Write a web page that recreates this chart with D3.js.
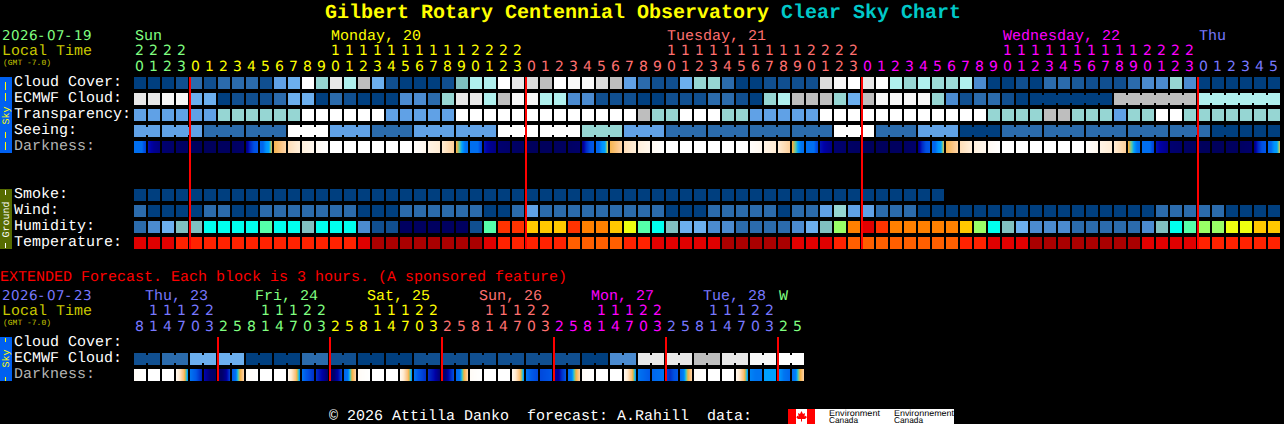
<!DOCTYPE html>
<html><head><meta charset="utf-8">
<script src="https://cdn.jsdelivr.net/npm/d3@7"></script>
<style>
html,body{margin:0;padding:0;background:#000;overflow:hidden}
svg{display:block}
text{font-family:"Liberation Mono",monospace;white-space:pre;text-rendering:geometricPrecision}
</style></head><body>
<script>
// ---------- data ----------
const titleMain = "Gilbert Rotary Centennial Observatory";
const titleSub = "Clear Sky Chart";
const skyLabels = ["Cloud Cover:", "ECMWF Cloud:", "Transparency:", "Seeing:", "Darkness:"];
const groundLabels = ["Smoke:", "Wind:", "Humidity:", "Temperature:"];
const extLabels = ["Cloud Cover:", "ECMWF Cloud:", "Darkness:"];

const hours = [20,21,22,23,0,1,2,3,4,5,6,7,8,9,10,11,12,13,14,15,16,17,18,19,20,21,22,23,
  0,1,2,3,4,5,6,7,8,9,10,11,12,13,14,15,16,17,18,19,20,21,22,23,
  0,1,2,3,4,5,6,7,8,9,10,11,12,13,14,15,16,17,18,19,20,21,22,23,0,1,2,3,4,5];
const hourDayIdx = [0,0,0,0,...Array(24).fill(1),...Array(24).fill(2),...Array(24).fill(3),...Array(6).fill(4)];
const dayNames = [{t:"Sun",col:0,d:0},{t:"Monday, 20",col:14,d:1},{t:"Tuesday, 21",col:38,d:2},{t:"Wednesday, 22",col:62,d:3},{t:"Thu",col:76,d:4}];
const dayColors = ["#80ff80","#ffff00","#ff7070","#ff00ff","#7878ff"];

const extHours = [8,11,14,17,20,23,2,5,8,11,14,17,20,23,2,5,8,11,14,17,20,23,2,5,8,11,14,17,20,23,2,5,8,11,14,17,20,23,2,5,8,11,14,17,20,23,2,5];
const extDayIdx = [0,0,0,0,0,0,...Array(8).fill(1),...Array(8).fill(2),...Array(8).fill(3),...Array(8).fill(4),...Array(8).fill(5),6,6];
const extDayNames = [{t:"Thu, 23",x:145,d:0},{t:"Fri, 24",x:255,d:1},{t:"Sat, 25",x:367,d:2},{t:"Sun, 26",x:479,d:3},{t:"Mon, 27",x:591,d:4},{t:"Tue, 28",x:703,d:5},{t:"W",x:779,d:6}];
const extDayColors = ["#7878ff","#80ff80","#ffff00","#ff7070","#ff00ff","#7878ff","#80ff80"];

const cloudCover = [0,0,0,1,2,1,2,2,2,1,4,5,10,6,9,7,8,5,1,0,0,0,1,5.8,7,7,10,9,8.5,8,10,9.5,9.5,8.5,8,4,2,1,1,5,6,6,2,0,0,1,1,1,1,8.5,9.5,10,
  9,10,7,6,7,6.5,6.5,7,3,0,0,1,0,2,2,1.5,1,1,1,2,3,3,6,3,0,0,0,0,0,0];
const ecmwfCloud = [9,9,9.5,9.5,5,5,0,1,1,1,2,5,5,0,2,1,0,0,0,3,3,2,6,9,9,7,8,9.5,9.5,7,7,3,3,1,1,1,0,0,1,1,1,2,2,1,0,6,7,8,8,8,6,5,
  8,9.5,9.5,9.5,9.5,6,3,1,2,2,1,0,0,0,0,0,0,0,8,8,8,8,8,8,7,7,7,7,7,7];
const transparency = [4,4,4,4,4,4,6,6,6,6,6,6,10,10,10,10,10,10,4,4,4,4,4,10,10,10,10,10,10,10,10,10,10,10,10,10,8,6,6,10,10,10,6,6,4,4,4,4,4,10,10,10,
  10,10,10,10,10,10,10,10,10,6,6,6,6,8,8,6,6,6,4,6,6,10,10,6,6,6,6,6,6,6];
const seeing = [4,4,4,4,4,2,2,2,2,2,2,10,10,10,4,4,4,2,2,2,4,4,4,4,4,4,10,10,10,10,10,10,6,6,6,4,4,4,2,2,2,2,2,2,2,2,2,2,2,2,10,10,
  10,2,2,2,4,4,4,0,0,0,2,2,2,2,2,2,2,2,2,2,2,2,2,2,2,0,0,0,0,0];
const seeingBlocks = [2,3,3,3,3,3,3,3,3,3,3,3,3,3,3,3,3,3,3,3,3,3,3,3,3,3,2];
const ecmwfBlocks = [...Array(64).fill(1),6,6,6];
const smoke = Array.from("0000000000000000000000000000000000000000000000000000000000", Number);
const wind = [2,0,0,0,0,2,2,0,0,2,2,2,2,2,2,2,0,0,0,2,2,2,2,2,2,0,0,2,4,2,2,2,2,2,2,2,2,2,0,0,0,2,2,2,2,2,0,2,2,4,6,4,
  4,2,2,2,0,0,0,0,0,0,0,0,0,0,0,0,0,0,0,0,0,2,2,2,2,2,0,0,0,0];
const humidity = [2,3,5,"t","t","c","c","c","c","g","c","c","t","c","c","c",3,1,1,"n","n","n","n","n",1,"g","R","R","A","A","A","R","O","O","A","Y","g","c","t",5,5,3,3,2,2,2,2,3,5,"t","L","O",
  "D","R","O","O","O","O","O","A","L","c","t",5,3,3,3,2,2,2,2,2,3,"t","c","g","L","L","Y","Y","A","A"];
const temperature = [1,1,1,2,2,2,2,2,2,2,2,2,2,2,2,2,1,0,0,0,0,0,0,0,0,1,2,2,2,2,2,3,3,3,3,2,2,1,1,1,1,1,0,0,0,0,0,1,1,1,2,3,
  3,3,3,3,3,3,3,2,2,1,1,1,0,0,0,0,0,0,0,0,1,1,1,1,2,2,2,2,2,2];
// darkness: samples across each hourly block, 0 = darkest sky .. 10 = daylight
const darkness = [[4.3,4.3,4.3,3.4],[2.4,1.6,1.3],[1,.9,.8],[.7,.6,.6],[.5,.4,.4],[.4,.4,.4],[.5,.5,.5],[.6,.7,.8],[1.2,2.8,3.8,4],[4.2,4.2,4.8,5,7],[7.2,7.8,8.4],[8.6,9.1],[9.2,9.6],[9.7,10],
  [10],[10],[10],[10],[10],[10],[9.9,9.6],[9.4,9],[9,8.2],[7.2,6.2,5,4.4,4.3],
  [4.3,4.3,4.3,3.4],[2.4,1.6,1.3],[1,.9,.8],[.7,.6,.6],[.5,.4,.4],[.4,.4,.4],[.5,.5,.5],[.6,.7,.8],[1.2,2.8,3.8,4],[4.2,4.2,4.8,5,7],[7.2,7.8,8.4],[8.6,9.1],[9.2,9.6],[9.7,10],
  [10],[10],[10],[10],[10],[10],[9.9,9.6],[9.4,9],[9,8.2],[7.2,6.2,5,4.4,4.3],[4.3,4.3,4.3,3.4],[2.4,1.8,1.4],[1,.9,.8],[.7,.6,.6],
  [.5,.4,.4],[.4,.4,.4],[.5,.5,.5],[.6,.7,.8],[1.2,2.8,3.8,4],[4.2,4.2,4.8,5,7],[7.2,7.8,8.4],[8.6,9.1],[9.2,9.6],[9.7,10],
  [10],[10],[10],[10],[10],[10],[9.9,9.6],[9.4,9],[9,8.2],[7.2,6.2,5,4.4,4.3],[4.3,4.3,4.3,3.4],[2.4,1.8,1.4],[1,.9,.8],[.7,.6,.6],
  [.5,.4,.4],[.4,.4,.4],[.5,.5,.5],[.6,.7,.8],[1.2,2.8,3.8,4],[4.2,4.2,4.8,5,7]];

const extCloud = [1,1,2,2,5,5,5,5,0,0,0,0,2,2,1,1,0,0,0,0,1,1,1,1,1,1,1,1,1,1,1,1,0,0,3,3,9,9,9,9,8,8,9,9,9.5,9.5,10,10];
const extBlocks = Array(24).fill(2);
const extDark = [[9.8,10],[10],[10],[9.7,8.8,7.6,4.6],[4.4,4,2.6],[2.2,1,.6],[.6,.8,1.6,3.4],[4,4.4,7,8.4],
  [9.8,10],[10],[10],[9.7,8.8,7.6,4.6],[4.4,3.8,3],[3,2,.8],[.6,.9,2,3.6],[4.2,4.4,7,8.4],
  [9.8,10],[10],[10],[9.7,8.8,7.6,4.6],[4.4,3.8,3],[3,2.2,1],[.8,1.2,2.6,3.8],[4.2,4.4,7,8.4],
  [9.8,10],[10],[10],[9.7,8.8,7.6,4.6],[4.4,4,3.6],[3.6,3.8,4],[2,1.6,3,4],[4.2,4.6,7,8.4],
  [9.8,10],[10],[10],[9.7,8.8,7.6,4.6],[4.4,4.2,4],[4.2,4.3,4.4],[3.4,3,3.8,4],[4.2,4.6,7,8.4],
  [9.8,10],[10],[10],[9.7,8.8,7.6,4.6],[4.6,4.4,4.4],[5,5,5],[5,4.4,4.2],[4.3,4.6,7,8.4]];

// ---------- scales ----------
const W = 1284, H = 424;
const colX = d3.scaleLinear().domain([0,1]).range([134,148]);
const CELL = 12;
const DIGIT_FONT = '"DejaVu Sans",sans-serif';
const cloudScale = d3.scaleOrdinal()
  .domain([0,1,1.5,2,3,4,5,5.8,6,6.5,7,8,8.5,9,9.5,10])
  .range(["#003f7f","#104f90","#1a5a9a","#2b6bac","#4b8bd0","#60a1e6","#6cafee","#7fc0c0","#96d6d3","#9ddcd8","#b0f0ee","#bebebe","#dcdcdc","#e8e8e8","#f8f8f8","#ffffff"]);
const humidScale = d3.scaleOrdinal()
  .domain([1,2,3,5,"t","c","g","n","R","A","O","Y","L","D"])
  .range(["#104f90","#2b6bac","#4b8bd0","#6cafee","#80c0c0","#00ffee","#55ffaa","#000060","#ff3300","#ffc800","#ff8000","#eeff10","#99ff66","#e00000"]);
const tempScale = d3.scaleOrdinal().domain([0,1,2,3]).range(["#aa0000","#e00000","#ff2200","#ff5f00"]);
const darkScale = d3.scaleLinear()
  .domain([0,1,2,3,4,5,6,7,8,9,10])
  .range(["#00004e","#000070","#0000a8","#0030c8","#0058e8","#00a0ff","#60c8a0","#f4b040","#fcc88c","#ffecd4","#ffffff"]);

const svg = d3.select("body").append("svg").attr("width",W).attr("height",H);

function txt(x,y,s,fill,size,opts={}){
  return svg.append("text").attr("x",x).attr("y",y).attr("fill",fill).attr("font-size",size)
    .attr("font-weight",opts.bold?"bold":null).attr("text-anchor",opts.anchor||null)
    .style("font-family",opts.font||null)
    .attr("transform",opts.rotate?`rotate(${opts.rotate} ${x} ${y})`:null).text(s);
}
// date strings: one glyph per 9px cell, plain zeros
function dateTxt(x,y,s,fill){
  const xs = Array.from(s,(c,i)=>x+i*9+(c==="-"?0.8:0)).join(" ");
  return svg.append("text").attr("x",xs).attr("y",y).attr("fill",fill).attr("font-size",13.5)
    .style("font-family",DIGIT_FONT).text(s);
}
function digit(cx,y,s,fill){
  txt(cx,y,s,fill,14,{anchor:"middle",font:DIGIT_FONT});
}
function row(values, y, scale){
  svg.append("g").selectAll("rect").data(values).join("rect")
    .attr("x",(d,i)=>colX(i)).attr("y",y).attr("width",CELL).attr("height",CELL)
    .attr("fill",d=>scale(d));
}
function bridges(values, blocks, y, scale){
  const pairs=[]; let s=0;
  blocks.forEach(n=>{ for(let k=s;k<s+n-1;k++) pairs.push(k); s+=n; });
  svg.append("g").selectAll("rect").data(pairs).join("rect")
    .attr("x",k=>colX(k)+CELL).attr("y",y+2).attr("width",colX(1)-colX(0)-CELL).attr("height",8)
    .attr("fill",k=>scale(values[k]));
}
function darkRow(samples, y){
  const px=[];
  samples.forEach((s,i)=>{
    const f = s.length>1 ? d3.piecewise(d3.interpolateNumber,s) : ()=>s[0];
    d3.range(CELL).forEach(p=>px.push({x:colX(i)+p,v:f((p+.5)/CELL)}));
  });
  svg.append("g").attr("shape-rendering","crispEdges").selectAll("rect").data(px).join("rect")
    .attr("x",d=>d.x).attr("y",y).attr("width",1).attr("height",CELL).attr("fill",d=>darkScale(d.v));
}
function sideLabel(word, centre, fill, dashes){
  txt(9,centre,word,fill,10,{anchor:"middle",rotate:-90});
  svg.append("g").selectAll("rect").data(dashes).join("rect")
    .attr("x",5).attr("y",d=>d[0]).attr("width",1).attr("height",d=>d[1]-d[0]).attr("fill",fill);
}

// ---------- title ----------
txt(325,18,titleMain,"#ffff00",20,{bold:true});
txt(781,18,titleSub,"#00c8c8",20,{bold:true});

// ---------- main header ----------
dateTxt(2,40,"2026-07-19",dayColors[0]);
txt(2,55,"Local Time","#c8c800",15);
txt(3,64.5,"(GMT -7.0)","#c8c800",8);
dayNames.forEach(d=>txt(colX(d.col)+1,40,d.t,dayColors[d.d],15));
hours.forEach((h,i)=>{
  const c=dayColors[hourDayIdx[i]], cx=colX(i)+5.5;
  if(h>=10) digit(cx,55,String(Math.floor(h/10)),c);
  digit(cx,70.5,String(h%10),c);
});

// ---------- side bars ----------
const rowY = d3.scaleLinear().domain([0,1]).range([77,93]);
const gY = d3.scaleLinear().domain([0,1]).range([189,205]);
svg.append("rect").attr("x",0).attr("y",rowY(0)).attr("width",12).attr("height",76).attr("fill","#0060f0");
sideLabel("Sky",115.5,"#ffff00",[[82,90],[93,101],[132,138],[142,150]]);
svg.append("rect").attr("x",0).attr("y",gY(0)).attr("width",12).attr("height",60).attr("fill","#566b00");
sideLabel("Ground",219.5,"#ffffff",[[190,195],[243,248]]);

skyLabels.forEach((s,i)=>txt(14,rowY(i)+9,s,i==4?"#b4b4b4":"#ffffff",15));
groundLabels.forEach((s,i)=>txt(14,gY(i)+9,s,"#ffffff",15));

// ---------- main rows ----------
row(cloudCover,rowY(0),cloudScale);
row(ecmwfCloud,rowY(1),cloudScale); bridges(ecmwfCloud,ecmwfBlocks,rowY(1),cloudScale);
row(transparency,rowY(2),cloudScale);
row(seeing,rowY(3),cloudScale); bridges(seeing,seeingBlocks,rowY(3),cloudScale);
darkRow(darkness,rowY(4));
row(smoke,gY(0),cloudScale);
row(wind,gY(1),cloudScale);
row(humidity,gY(2),humidScale);
row(temperature,gY(3),tempScale);

// midnight lines
const midnights = hours.map((h,i)=>h===0?i:-1).filter(i=>i>=0);
svg.append("g").selectAll("rect").data(midnights).join("rect")
  .attr("x",i=>colX(i)-1).attr("y",77).attr("width",2).attr("height",172).attr("fill","#ff0000");

// ---------- extended ----------
txt(0,281,"EXTENDED Forecast. Each block is 3 hours. (A sponsored feature)","#ff0000",15);
dateTxt(2,300,"2026-07-23",extDayColors[0]);
txt(2,315,"Local Time","#c8c800",15);
txt(3,324.5,"(GMT -7.0)","#c8c800",8);
extDayNames.forEach(d=>txt(d.x,300,d.t,extDayColors[d.d],15));
extHours.forEach((h,i)=>{
  const c=extDayColors[extDayIdx[i]], cx=colX(i)+5.5;
  if(h>=10) digit(cx,315,String(Math.floor(h/10)),c);
  digit(cx,330.5,String(h%10),c);
});
const extY = d3.scaleLinear().domain([0,1]).range([337,353]);
svg.append("rect").attr("x",0).attr("y",extY(0)).attr("width",12).attr("height",44).attr("fill","#0060f0");
sideLabel("Sky",358.5,"#ffff00",[[338,342],[377,381]]);
extLabels.forEach((s,i)=>txt(14,extY(i)+9,s,i==2?"#b4b4b4":"#ffffff",15));
row(extCloud,extY(1),cloudScale); bridges(extCloud,extBlocks,extY(1),cloudScale);
darkRow(extDark,extY(2));
const extMid = extHours.map((h,i)=>h===23?i+1:-1).filter(i=>i>=0 && i<48);
svg.append("g").selectAll("rect").data(extMid).join("rect")
  .attr("x",i=>colX(i)-1).attr("y",337).attr("width",2).attr("height",44).attr("fill","#ff0000");

// ---------- footer ----------
txt(329,420,"© 2026 Attilla Danko  forecast: A.Rahill  data:","#ffffff",15);
svg.append("rect").attr("x",788).attr("y",409).attr("width",166).attr("height",15).attr("fill","#ffffff");
svg.append("rect").attr("x",788).attr("y",409).attr("width",8).attr("height",15).attr("fill","#ff0000");
svg.append("rect").attr("x",807).attr("y",409).attr("width",8).attr("height",15).attr("fill","#ff0000");
svg.append("path").attr("d","M801.5 411 L803 414 L805 413 L804.5 416.5 L806 415.8 L806.8 417.4 L805 419 L802 419 L802 421.5 L801 421.5 L801 419 L798 419 L796.4 417.4 L797.2 415.8 L798.6 416.5 L798 413 L800 414 Z").attr("fill","#ff0000");
[[829,"Environment",51,"Canada",29],[894,"Environnement",60,"Canada",29]].forEach(([x,a,wa,b,wb])=>{
  txt(x,415.5,a,"#000000",8.5,{font:'"Liberation Sans",sans-serif'}).attr("textLength",wa).attr("lengthAdjust","spacingAndGlyphs");
  txt(x,423,b,"#000000",8.5,{font:'"Liberation Sans",sans-serif'}).attr("textLength",wb).attr("lengthAdjust","spacingAndGlyphs");
});
</script>
</body></html>
